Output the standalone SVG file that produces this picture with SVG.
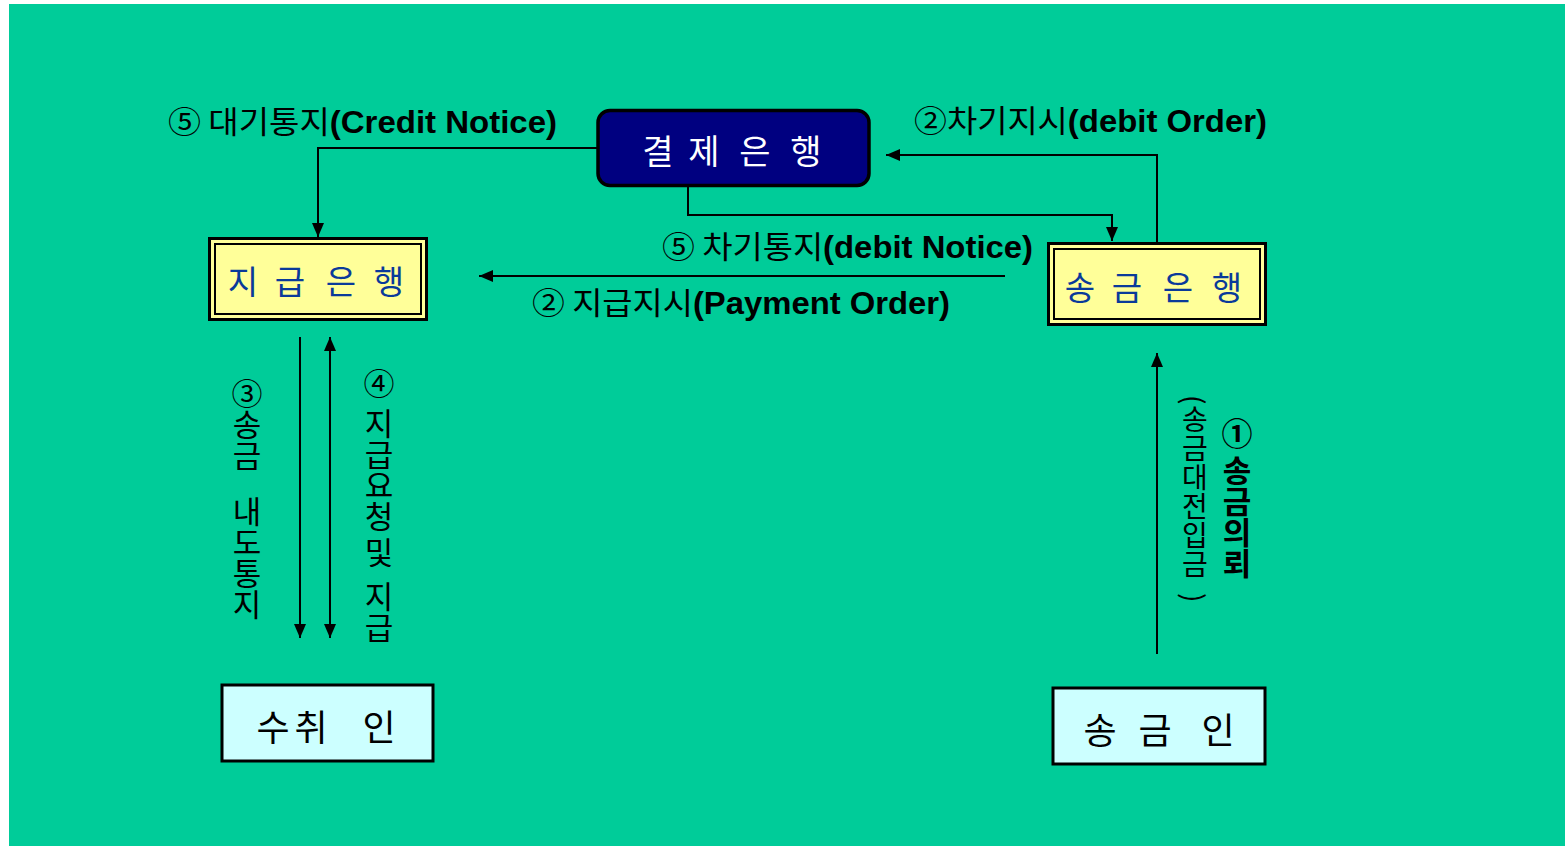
<svg xmlns="http://www.w3.org/2000/svg" width="1565" height="846" viewBox="0 0 1565 846">
<style>
.lbl{font-family:"Liberation Sans","Noto Sans CJK KR",sans-serif;font-size:31px;fill:#000}
.en{font-weight:bold}
.ko{font-family:"Noto Sans CJK KR",sans-serif;font-weight:normal}
.vt{font-family:"Noto Sans CJK KR",sans-serif;font-size:31px;fill:#000;writing-mode:vertical-rl;text-orientation:upright}
.vm{font-family:"Noto Sans CJK KR",sans-serif;font-size:28px;fill:#000;writing-mode:vertical-rl;text-orientation:mixed}
.box{font-family:"Noto Sans CJK KR",sans-serif;text-anchor:middle}
.conn{fill:none;stroke:#000;stroke-width:2}
</style>
<defs>
<marker id="ah" viewBox="0 0 14 12" refX="14" refY="6" markerWidth="14" markerHeight="12" markerUnits="userSpaceOnUse" orient="auto-start-reverse">
<path d="M0,0 L14,6 L0,12 z" fill="#000"/>
</marker>
</defs>
<rect x="9" y="4" width="1556" height="842" fill="#00CC99"/>

<g id="connectors">
<path class="conn" d="M597,148 H318 V237" marker-end="url(#ah)"/>
<path class="conn" d="M688,187 V215 H1112 V241" marker-end="url(#ah)"/>
<path class="conn" d="M1157,242 V155 H886" marker-end="url(#ah)"/>
<path class="conn" d="M1005,276 H479" marker-end="url(#ah)"/>
<path class="conn" d="M300,337 V638" marker-end="url(#ah)"/>
<path class="conn" d="M330,337 V638" marker-start="url(#ah)" marker-end="url(#ah)"/>
<path class="conn" d="M1157,654 V353" marker-end="url(#ah)"/>
</g>

<g id="settlement-bank">
<rect x="598" y="110.5" width="271" height="75" rx="12" fill="#000080" stroke="#000" stroke-width="3.5"/>
<text class="box" y="164" font-size="34" fill="#fff"><tspan x="658">결</tspan><tspan x="704">제</tspan><tspan x="755">은</tspan><tspan x="806">행</tspan></text>
</g>

<g id="paying-bank">
<rect x="209.5" y="238.5" width="217" height="81" fill="#FFFF99" stroke="#000" stroke-width="3"/>
<rect x="215" y="244" width="206" height="70" fill="none" stroke="#000" stroke-width="2"/>
<text class="box" y="294" font-size="33" fill="#0A3A9A"><tspan x="243">지</tspan><tspan x="290">급</tspan><tspan x="341">은</tspan><tspan x="389">행</tspan></text>
</g>

<g id="remitting-bank">
<rect x="1048.5" y="243.5" width="217" height="81" fill="#FFFF99" stroke="#000" stroke-width="3"/>
<rect x="1054" y="249" width="206" height="70" fill="none" stroke="#000" stroke-width="2"/>
<text class="box" y="300" font-size="33" fill="#0A3A9A"><tspan x="1080">송</tspan><tspan x="1127">금</tspan><tspan x="1178">은</tspan><tspan x="1227">행</tspan></text>
</g>

<g id="payee">
<rect x="222" y="685" width="211" height="76" fill="#CCFFFF" stroke="#000" stroke-width="3"/>
<text class="box" y="741" font-size="36" fill="#000"><tspan x="273">수</tspan><tspan x="311">취</tspan><tspan x="379">인</tspan></text>
</g>

<g id="remitter">
<rect x="1053" y="688" width="212" height="76" fill="#CCFFFF" stroke="#000" stroke-width="3"/>
<text class="box" y="744" font-size="36" fill="#000"><tspan x="1100">송</tspan><tspan x="1155">금</tspan><tspan x="1218">인</tspan></text>
</g>

<g id="labels">
<text class="lbl" x="168" y="133" textLength="389" lengthAdjust="spacingAndGlyphs"><tspan class="ko">⑤ 대기통지</tspan><tspan class="en">(Credit Notice)</tspan></text>
<text class="lbl" x="914" y="132" textLength="353" lengthAdjust="spacingAndGlyphs"><tspan class="ko">②차기지시</tspan><tspan class="en">(debit Order)</tspan></text>
<text class="lbl" x="662" y="258" textLength="371" lengthAdjust="spacingAndGlyphs"><tspan class="ko">⑤ 차기통지</tspan><tspan class="en">(debit Notice)</tspan></text>
<text class="lbl" x="532" y="314" textLength="418" lengthAdjust="spacingAndGlyphs"><tspan class="ko">② 지급지시</tspan><tspan class="en">(Payment Order)</tspan></text>

<text class="vt" x="247" y="378">③송금<tspan dy="25">내도통지</tspan></text>

<text class="vt" x="379" y="368">④<tspan dy="9">지급요청</tspan><tspan dy="5">및</tspan><tspan dy="13">지급</tspan></text>

<text class="vt" x="1237" y="418" font-weight="bold">①<tspan dy="6">송금의뢰</tspan></text>

<text class="vm" x="1195" y="395" letter-spacing="1">(송금대전입금<tspan dy="14">)</tspan></text>
</g>
</svg>
